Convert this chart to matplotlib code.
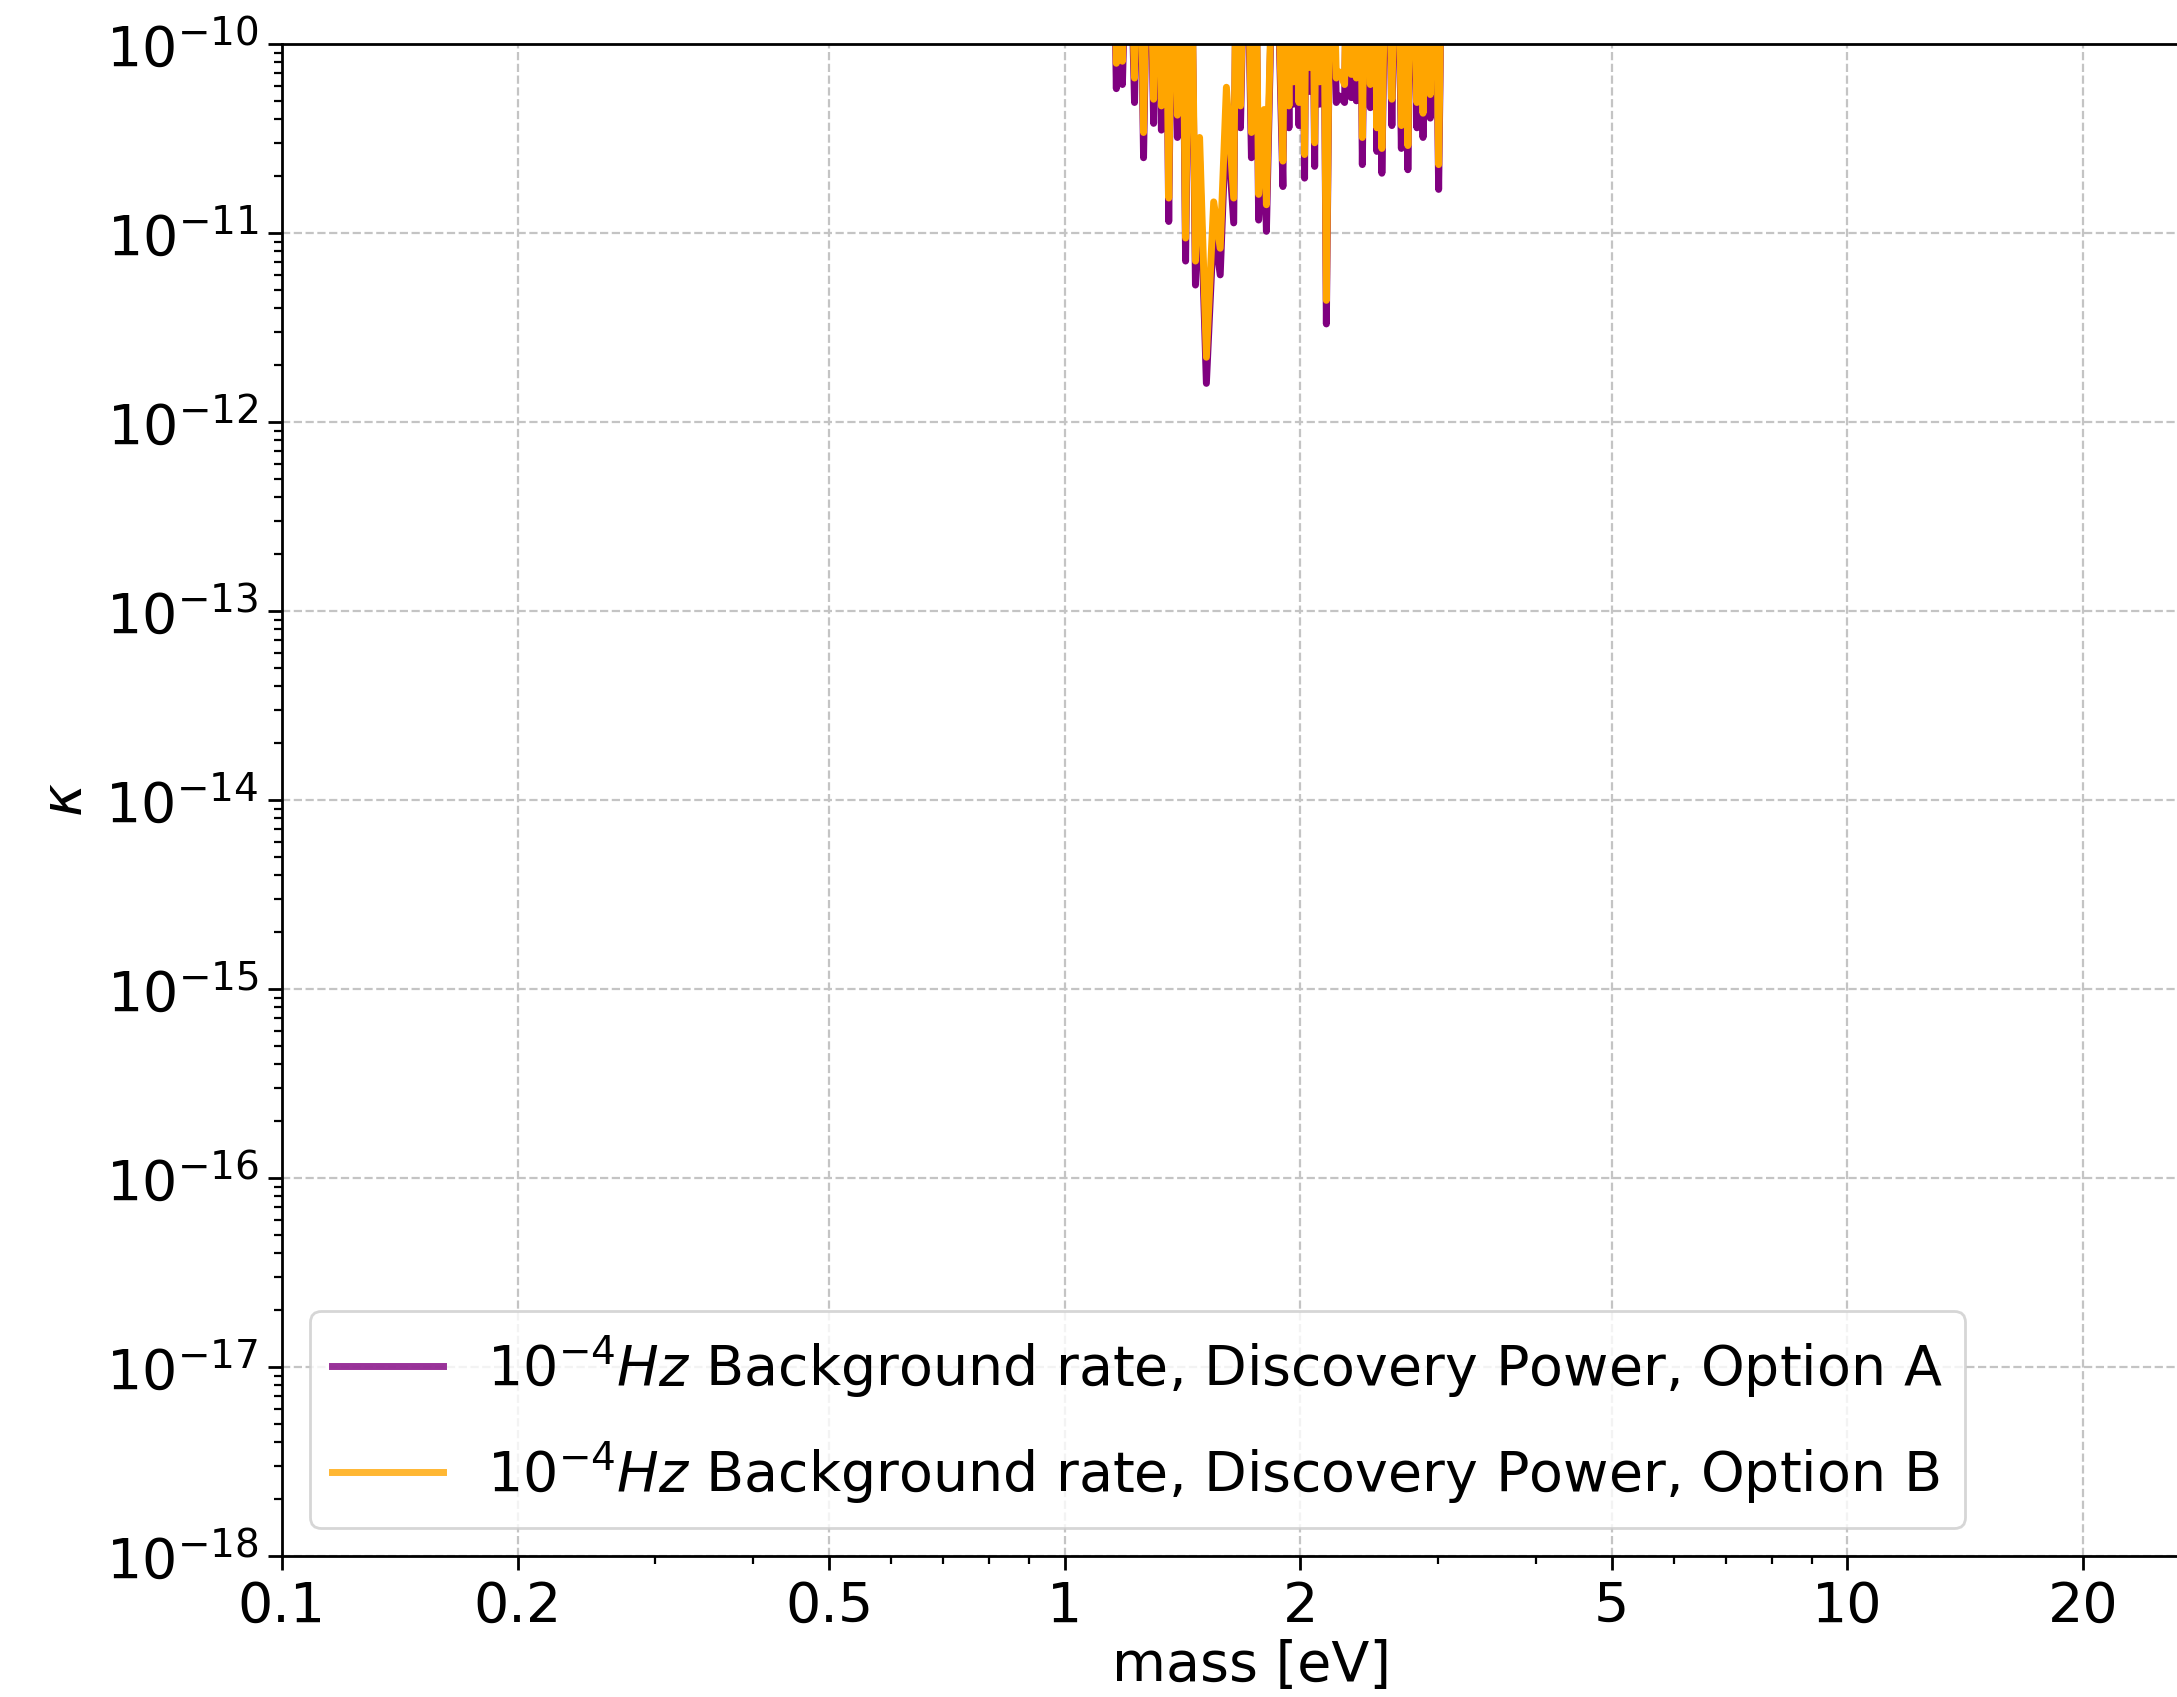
import numpy as np
import matplotlib.pyplot as plt
from matplotlib.ticker import LogLocator, NullFormatter

# mass grid of the scan [eV] -- minima and peaks of the sensitivity curve
mass = [1.151, 1.164, 1.175, 1.185, 1.206, 1.228, 1.245, 1.261, 1.280, 1.299,
        1.314, 1.329, 1.343, 1.358, 1.375, 1.393, 1.410, 1.427, 1.448, 1.469,
        1.487, 1.517, 1.550, 1.580, 1.609, 1.644, 1.660, 1.677, 1.704, 1.732,
        1.750, 1.769, 1.798, 1.810, 1.855, 1.900, 1.917, 1.934, 1.947, 1.961,
        1.976, 1.992, 2.008, 2.025, 2.038, 2.051, 2.068, 2.086, 2.101, 2.117,
        2.138, 2.159, 2.190, 2.223, 2.245, 2.278, 2.300, 2.323, 2.340, 2.358,
        2.380, 2.400, 2.428, 2.457, 2.480, 2.505, 2.523, 2.542, 2.580, 2.618,
        2.655, 2.692, 2.718, 2.744, 2.780, 2.818, 2.843, 2.869, 2.900, 2.931,
        2.967, 3.004, 3.042]

# Option A (purple)
kappa_A = [1e-9, 5.8e-11, 1e-9, 6.1e-11, 1e-9, 4.9e-11, 1e-9, 2.5e-11, 1e-9, 3.8e-11,
           1e-9, 3.5e-11, 1e-9, 1.15e-11, 1e-9, 3.2e-11, 1e-9, 7.1e-12, 1e-9, 5.3e-12,
           2.4e-11, 1.6e-12, 1.1e-11, 6.0e-12, 4.4e-11, 1.13e-11, 1e-9, 3.6e-11, 1e-9, 2.5e-11,
           1e-9, 1.17e-11, 3.3e-11, 1.02e-11, 1e-9, 1.76e-11, 1e-9, 3.6e-11, 1e-9, 4.8e-11,
           1e-9, 3.7e-11, 1e-9, 1.95e-11, 1e-9, 5.6e-11, 1e-9, 2.25e-11, 1e-9, 4.8e-11,
           1e-9, 3.3e-12, 1e-9, 4.9e-11, 5.3e-11, 4.9e-11, 1e-9, 5.2e-11, 1e-9, 5.0e-11,
           1e-9, 2.3e-11, 1e-9, 4.6e-11, 1e-9, 2.7e-11, 1e-9, 2.07e-11, 1e-9, 3.7e-11,
           1e-9, 2.8e-11, 1e-9, 2.16e-11, 1e-9, 3.6e-11, 1e-9, 3.2e-11, 1e-9, 4.05e-11,
           1e-9, 1.7e-11, 1e-9]

# Option B (orange)
kappa_B = [1e-9, 7.9e-11, 1e-9, 8.1e-11, 1e-9, 6.6e-11, 1e-9, 3.4e-11, 1e-9, 5.1e-11,
           1e-9, 4.7e-11, 1e-9, 1.53e-11, 1e-9, 4.2e-11, 1e-9, 9.4e-12, 1e-9, 7.1e-12,
           3.2e-11, 2.2e-12, 1.46e-11, 8.3e-12, 5.9e-11, 1.53e-11, 1e-9, 4.7e-11, 1e-9, 3.4e-11,
           1e-9, 1.6e-11, 4.5e-11, 1.41e-11, 1e-9, 2.4e-11, 1e-9, 4.7e-11, 1e-9, 6.3e-11,
           1e-9, 4.9e-11, 1e-9, 2.6e-11, 1e-9, 7.5e-11, 1e-9, 3.0e-11, 1e-9, 6.3e-11,
           1e-9, 4.4e-12, 1e-9, 6.6e-11, 7.1e-11, 6.1e-11, 1e-9, 6.9e-11, 1e-9, 6.6e-11,
           1e-9, 3.2e-11, 1e-9, 6.1e-11, 1e-9, 3.6e-11, 1e-9, 2.8e-11, 1e-9, 5.1e-11,
           1e-9, 3.7e-11, 1e-9, 2.9e-11, 1e-9, 4.9e-11, 1e-9, 4.3e-11, 1e-9, 5.4e-11,
           1e-9, 2.3e-11, 1e-9]

xticks = [0.1, 0.2, 0.5, 1, 2, 5, 10, 20]
xticklabels = ['0.1', '0.2', '0.5', '1', '2', '5', '10', '20']

labels = [r'$10^{-4} Hz$ Background rate, Discovery Power, Option A',
          r'$10^{-4} Hz$ Background rate, Discovery Power, Option B']

fig = plt.figure(figsize=(10.885, 8.485), dpi=200)
# axes runs a bit past the right edge of the figure, like the original
ax = fig.add_axes([0.1295, 0.0831, 0.8907, 0.891])

ax.plot(mass, kappa_A, color='purple', linewidth=2.5, label=labels[0])
ax.plot(mass, kappa_B, color='orange', linewidth=2.5, label=labels[1])

ax.set_xscale('log')
ax.set_yscale('log')
ax.set_xlim(0.1, 30)
ax.set_ylim(1e-18, 1e-10)

ax.set_xticks(xticks)
ax.set_xticklabels(xticklabels)
ax.xaxis.set_minor_locator(LogLocator(subs=np.arange(2, 10)))
ax.xaxis.set_minor_formatter(NullFormatter())
ax.yaxis.set_major_locator(LogLocator(numticks=20))
ax.yaxis.set_minor_locator(LogLocator(subs=np.arange(2, 10), numticks=100))
ax.yaxis.set_minor_formatter(NullFormatter())

ax.tick_params(which='major', labelsize=20, length=5, width=1)
ax.tick_params(which='minor', length=3, width=0.8)
for s in ax.spines.values():
    s.set_linewidth(1.0)

ax.grid(True, which='major', linestyle='--', color='#c4c4c4', linewidth=0.8)

ax.set_xlabel('mass [eV]', fontsize=20, labelpad=2)
ax.set_ylabel(r'$\kappa$', fontsize=20)

leg = ax.legend(loc='lower left', fontsize=20, labelspacing=0.7)
for l in leg.get_lines():
    l.set_alpha(0.8)

fig.savefig('out.png', dpi=200)
